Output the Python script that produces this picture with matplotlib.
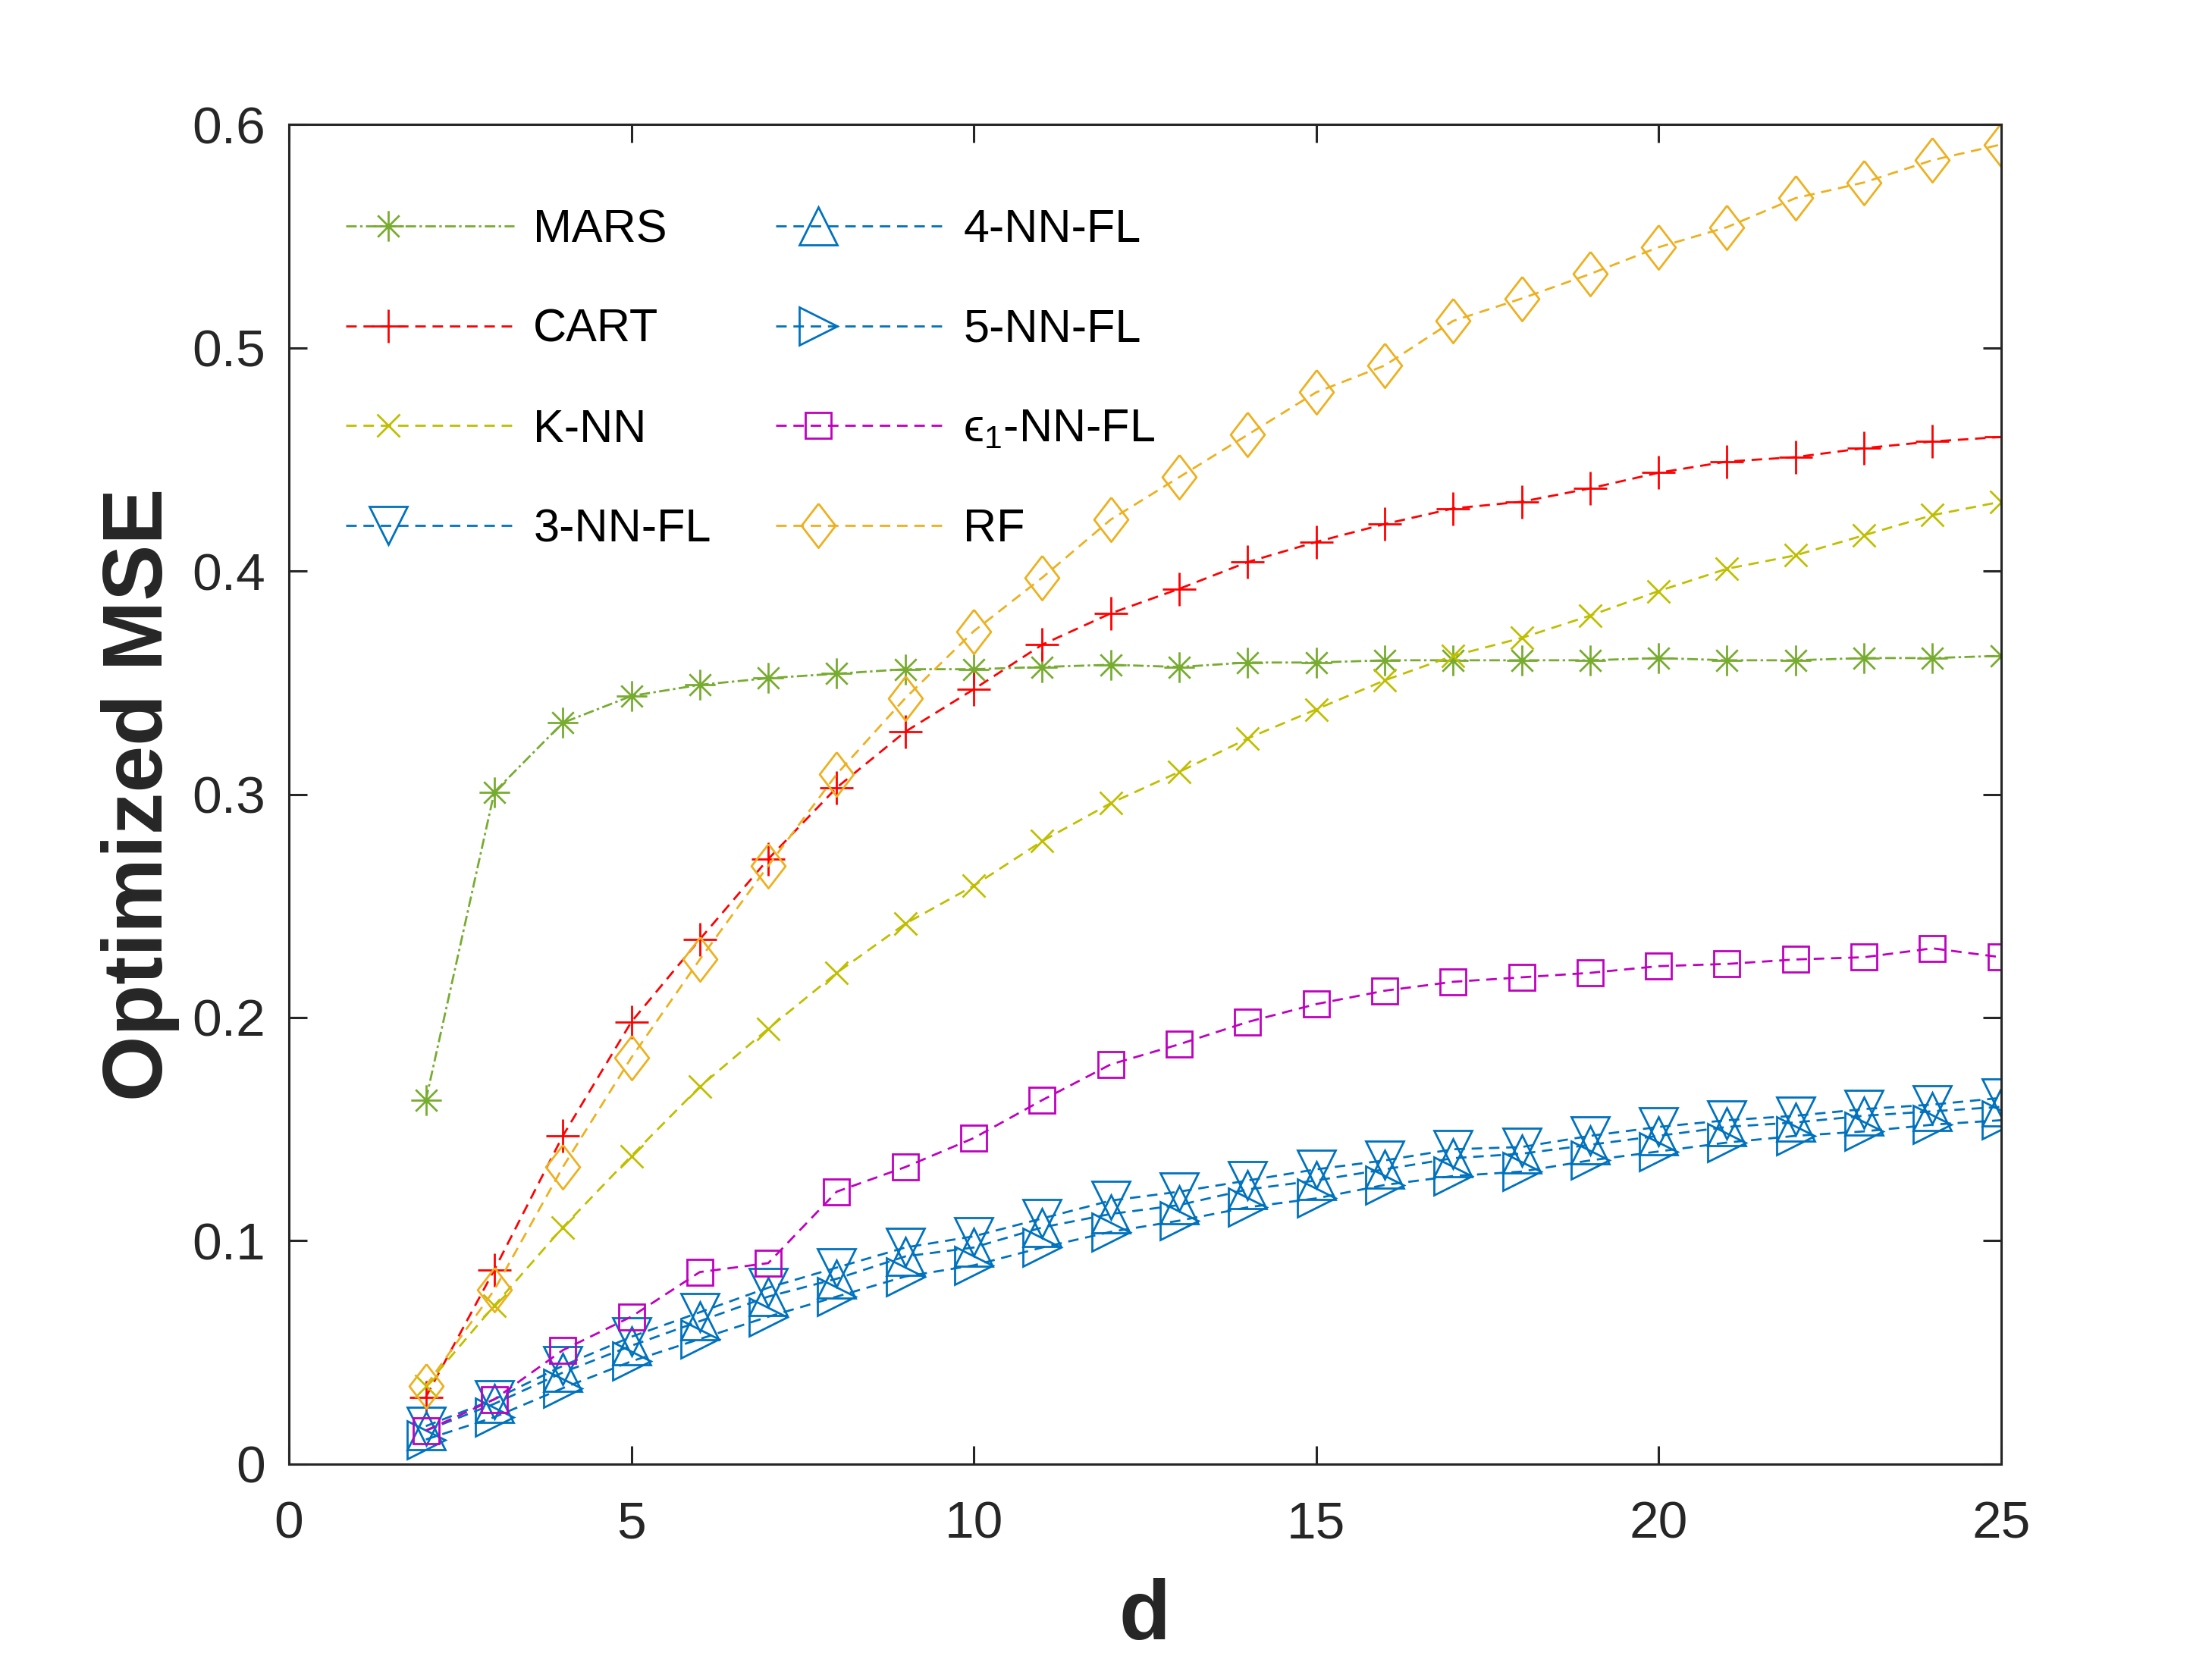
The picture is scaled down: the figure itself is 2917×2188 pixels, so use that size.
import numpy as np
import matplotlib
matplotlib.use("Agg")
import matplotlib.pyplot as plt
from matplotlib.path import Path
from matplotlib.lines import Line2D
from matplotlib.legend_handler import HandlerLine2D

# data
d = list(range(2, 26))

mars = [0.163, 0.301, 0.332, 0.344, 0.349, 0.352, 0.354, 0.356, 0.356, 0.357, 0.358, 0.357,
        0.359, 0.359, 0.360, 0.360, 0.360, 0.360, 0.361, 0.360, 0.360, 0.361, 0.361, 0.362]
cart = [0.030, 0.087, 0.147, 0.198, 0.235, 0.271, 0.303, 0.328, 0.347, 0.367, 0.381, 0.392,
        0.404, 0.413, 0.421, 0.428, 0.431, 0.437, 0.444, 0.449, 0.451, 0.455, 0.458, 0.460]
knn = [0.035, 0.071, 0.106, 0.138, 0.169, 0.195, 0.220, 0.242, 0.259, 0.279, 0.296, 0.310,
       0.325, 0.338, 0.351, 0.362, 0.370, 0.380, 0.391, 0.401, 0.407, 0.416, 0.425, 0.431]
nn3 = [0.017, 0.029, 0.044, 0.057, 0.068, 0.079, 0.088, 0.097, 0.102, 0.110, 0.118, 0.122,
       0.127, 0.132, 0.136, 0.141, 0.142, 0.147, 0.151, 0.154, 0.156, 0.159, 0.161, 0.164]
nn4 = [0.015, 0.027, 0.041, 0.053, 0.064, 0.075, 0.083, 0.093, 0.097, 0.106, 0.112, 0.116,
       0.123, 0.127, 0.132, 0.137, 0.139, 0.143, 0.147, 0.151, 0.153, 0.156, 0.158, 0.160]
nn5 = [0.011, 0.021, 0.034, 0.046, 0.056, 0.066, 0.075, 0.084, 0.089, 0.097, 0.104, 0.109,
       0.115, 0.119, 0.125, 0.129, 0.131, 0.136, 0.140, 0.144, 0.147, 0.149, 0.152, 0.154]
eps1 = [0.015, 0.029, 0.051, 0.066, 0.086, 0.090, 0.122, 0.133, 0.146, 0.163, 0.179, 0.188,
        0.198, 0.206, 0.212, 0.216, 0.218, 0.220, 0.223, 0.224, 0.226, 0.227, 0.231, 0.227]
rf = [0.035, 0.078, 0.133, 0.182, 0.226, 0.268, 0.309, 0.343, 0.373, 0.397, 0.423, 0.442,
      0.461, 0.480, 0.492, 0.512, 0.522, 0.533, 0.545, 0.554, 0.567, 0.574, 0.584, 0.591]

labels = ["MARS", "CART", "K-NN", "3-NN-FL", "4-NN-FL", "5-NN-FL",
          "\u03f5$_1$-NN-FL", "RF"]

plt.rcParams["font.family"] = ["Liberation Sans", "DejaVu Sans"]
plt.rcParams["mathtext.fontset"] = "custom"
plt.rcParams["mathtext.rm"] = "Liberation Sans"
plt.rcParams["mathtext.it"] = "Liberation Sans"
plt.rcParams["lines.scale_dashes"] = False

# MATLAB-like markers
s = 0.7071
asterisk = Path([(0, -1), (0, 1), (-1, 0), (1, 0), (-s, -s), (s, s), (-s, s), (s, -s)],
                [Path.MOVETO, Path.LINETO] * 4)
diamond = [(0, 1), (0.77, 0), (0, -1), (-0.77, 0), (0, 1)]

dash = (0, (5, 3.2))
dashdot = (0, (5, 1.6, 1.2, 1.6))

series = [
    (mars, "#77AC30", asterisk, 14.5, dashdot),
    (cart, "#FF0000", "+", 15.5, dash),
    (knn, "#BFBF00", "x", 10.5, dash),
    (nn3, "#0072BD", "v", 18, dash),
    (nn4, "#0072BD", "^", 18, dash),
    (nn5, "#0072BD", ">", 18, dash),
    (eps1, "#BF00BF", "s", 12, dash),
    (rf, "#EDB120", diamond, 21, dash),
]


class QuarterHandler(HandlerLine2D):
    """legend marker sits at a quarter of the line, like MATLAB"""
    def create_artists(self, legend, orig_handle, xdescent, ydescent, width, height,
                       fontsize, trans):
        x0 = -xdescent
        xdata = np.array([x0, x0 + 0.25 * width, x0 + width])
        ydata = np.full_like(xdata, (height - ydescent) / 2)
        legline = Line2D(xdata, ydata, markevery=[1])
        self.update_prop(legline, orig_handle, legend)
        legline.set_transform(trans)
        return [legline]


fig = plt.figure(figsize=(14.585, 10.94), dpi=200)
ax = fig.add_axes([0.1306, 0.1175, 0.774, 0.8075])

for (vals, col, mk, ms, ls), lab in zip(series, labels):
    ax.plot(d, vals, color=col, linestyle=ls, linewidth=1.0, marker=mk, markersize=ms,
            markerfacecolor="none", markeredgecolor=col, markeredgewidth=1.0, label=lab)

ax.set_xlim(0, 25)
ax.set_ylim(0, 0.6)
ax.set_xticks([0, 5, 10, 15, 20, 25])
ax.set_yticks([0, 0.1, 0.2, 0.3, 0.4, 0.5, 0.6])
ax.set_yticklabels(["0", "0.1", "0.2", "0.3", "0.4", "0.5", "0.6"])
ax.tick_params(direction="in", length=8.6, width=1.1, top=True, right=True,
               labelsize=25, colors="#262626", pad=11)
ax.xaxis.set_tick_params(pad=17)
for sp in ax.spines.values():
    sp.set_linewidth(1.1)
    sp.set_color("#262626")

ax.set_xlabel("d", fontsize=40, fontweight="bold", color="#262626", labelpad=14)
ax.set_ylabel("Optimized MSE", fontsize=40, fontweight="bold", color="#262626", labelpad=6)

ax.legend(loc="upper left", bbox_to_anchor=(0.0334, 0.937), ncol=2, frameon=False,
          fontsize=22, handlelength=3.63, handletextpad=0.41, labelspacing=1.22,
          columnspacing=1.4, borderpad=0, borderaxespad=0,
          handler_map={Line2D: QuarterHandler()})

fig.savefig("out.png", dpi=200, facecolor="white")
